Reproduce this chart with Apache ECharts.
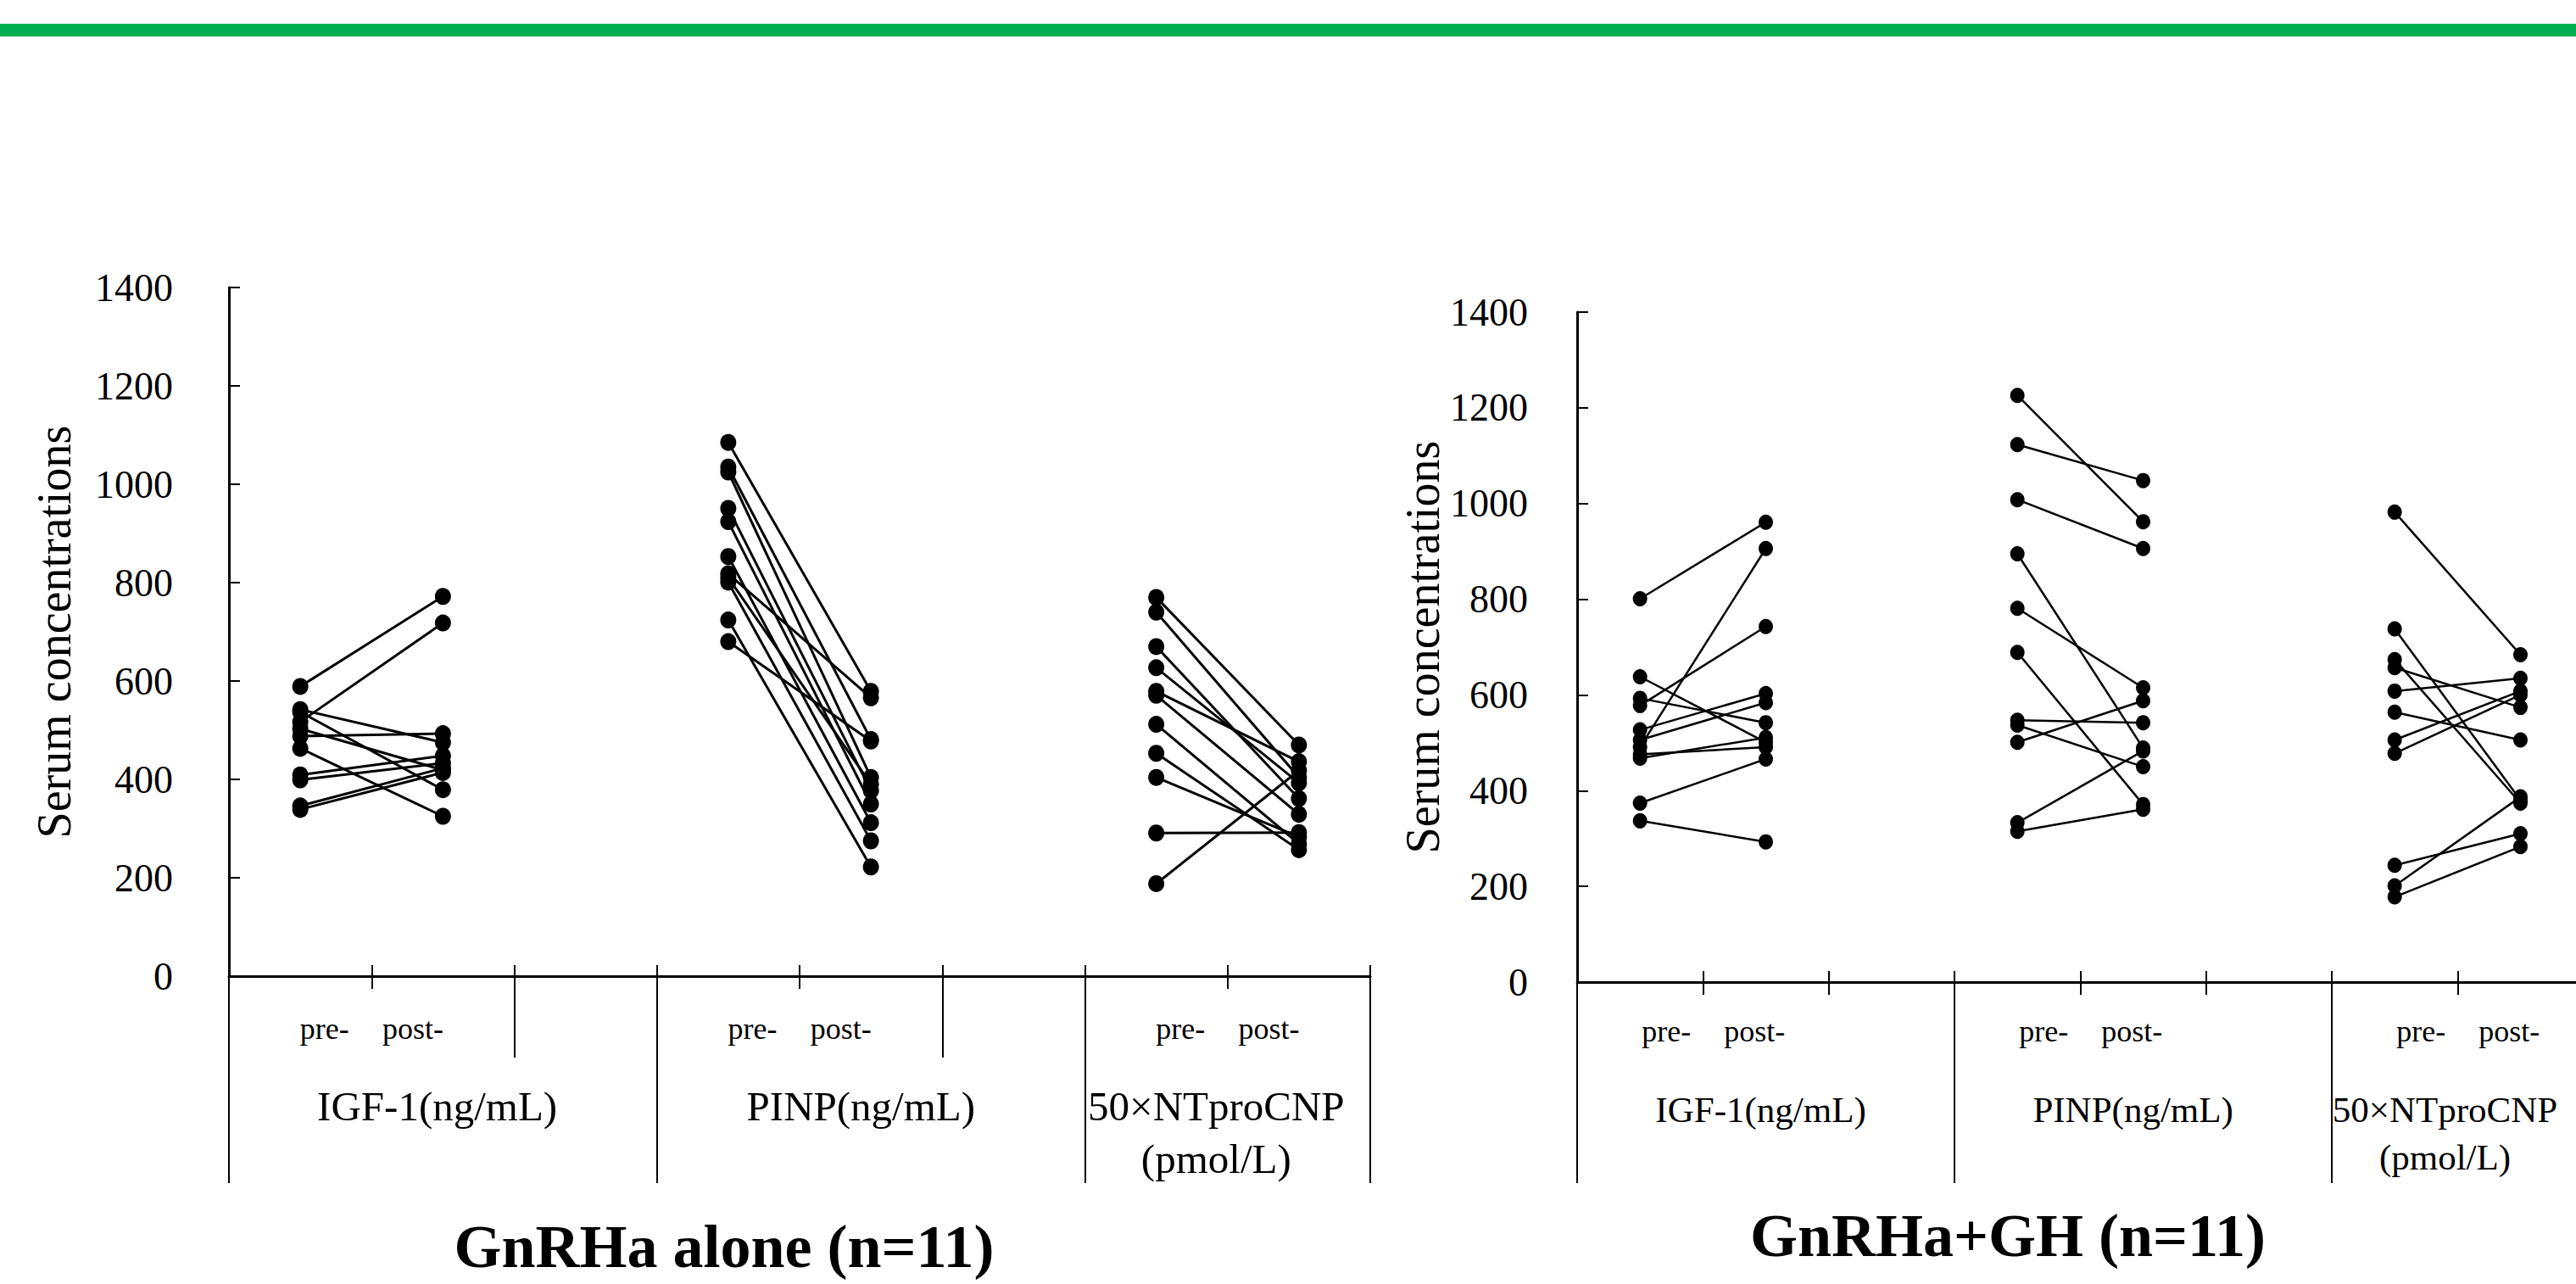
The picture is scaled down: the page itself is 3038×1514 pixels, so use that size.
<!DOCTYPE html>
<html>
<head>
<meta charset="utf-8">
<title>Serum concentrations pre/post</title>
<script src="https://cdn.jsdelivr.net/npm/echarts@6/dist/echarts.min.js"></script>
<style>html,body{margin:0;padding:0;background:#fff;overflow:hidden}</style>
</head>
<body>
<div id="chart" style="width:3038px;height:1514px;"></div>
<script>
// marker names shown under each pair of columns
const markers = ['IGF-1(ng/mL)', 'PINP(ng/mL)', '50×NTproCNP\n(pmol/L)'];
const phases = ['pre-', 'post-'];
const titles = ['GnRHa alone (n=11)', 'GnRHa+GH (n=11)'];
const yName = 'Serum concentrations';

// GnRHa alone, one entry per patient (pre -> post)
const aloneIgfPre   = [589, 517, 537, 542, 488, 463, 409, 399, 346, 339, 503];
const aloneIgfPost  = [772, 718, 379, 475, 493, 325, 448, 433, 423, 414, 419];
const alonePinpPre  = [1085, 1035, 1025, 951, 924, 853, 818, 810, 801, 724, 680];
const alonePinpPost = [579, 481, 404, 377, 350, 312, 566, 390, 275, 222, 478];
const aloneCnpPre   = [770, 740, 670, 627, 579, 571, 512, 453, 404, 291, 188];
const aloneCnpPost  = [470, 404, 361, 393, 436, 329, 269, 257, 283, 292, 418];

// GnRHa + GH
const ghIgfPre   = [801, 491, 578, 638, 593, 527, 506, 476, 468, 374, 337];
const ghIgfPost  = [961, 906, 743, 501, 542, 603, 584, 491, 511, 466, 293];
const ghPinpPre  = [1226, 1123, 1008, 895, 781, 689, 547, 537, 501, 333, 315];
const ghPinpPost = [962, 1048, 906, 489, 615, 371, 542, 450, 588, 483, 361];
const ghCnpPre   = [982, 738, 674, 657, 608, 564, 506, 478, 244, 201, 178];
const ghCnpPost  = [684, 380, 374, 574, 635, 506, 608, 600, 310, 387, 283];

const FONT = 'Liberation Serif';

// layout of the two panels (x axis: 3 units per marker, pre at +0.5, post at +1.5)
const panels = [
  {
    pairs: [[aloneIgfPre, aloneIgfPost], [alonePinpPre, alonePinpPost], [aloneCnpPre, aloneCnpPost]],
    grid: {left: 270, top: 339, width: 1346, height: 812},
    xMax: 8, mid: [1, 4, 7], tall: [2, 5], bounds: [0, 3, 6, 8],
    tallLen: 96, boundLen: 244,
    phaseOff: [0.67, 1.29], phaseMargin: 44,
    markerPos: [1.46, 4.43, 6.92], markerSize: 49, markerLH: 62, markerMargin: 122,
    yMargin: 66, nameGap: 178,
    dot: [19, 20], lw: 3,
    titleXY: [854, 1470]
  },
  {
    pairs: [[ghIgfPre, ghIgfPost], [ghPinpPre, ghPinpPost], [ghCnpPre, ghCnpPost]],
    grid: {left: 1860, top: 368, width: 1335, height: 790},
    xMax: 9, mid: [1, 2, 4, 5, 7, 8], tall: [], bounds: [0, 3, 6, 9],
    tallLen: 0, boundLen: 237,
    phaseOff: [0.71, 1.41], phaseMargin: 40,
    markerPos: [1.46, 4.42, 6.9], markerSize: 43, markerLH: 56, markerMargin: 122,
    yMargin: 58, nameGap: 152,
    dot: [17, 18], lw: 2.5,
    titleXY: [2368, 1457]
  }
];

const black = '#000';
const grids = [], xAxes = [], yAxes = [], series = [];

panels.forEach(function (p, pi) {
  grids.push(Object.assign({outerBoundsMode: 'none', containLabel: false}, p.grid));

  const ints = [];
  for (let i = 0; i <= p.xMax; i++) ints.push(i);
  const phaseVals = [];
  [0, 3, 6].forEach(function (s) {
    if (s + p.phaseOff[0] < p.xMax) phaseVals.push(s + p.phaseOff[0], s + p.phaseOff[1]);
  });

  const base = {
    type: 'value', gridIndex: pi, min: 0, max: p.xMax, position: 'bottom',
    splitLine: {show: false}
  };
  // main axis line, short ticks above the line, pre-/post- labels
  xAxes.push(Object.assign({}, base, {
    axisLine: {show: true, onZero: false, lineStyle: {color: black, width: 3}},
    axisTick: {show: true, inside: true, length: 13, customValues: ints, lineStyle: {color: black, width: 2}},
    axisLabel: {
      customValues: phaseVals, margin: p.phaseMargin,
      formatter: function (v) { return (v % 3) < 1 ? phases[0] : phases[1]; },
      fontFamily: FONT, fontSize: 36, color: black
    }
  }));
  // short ticks below the line, marker names
  xAxes.push(Object.assign({}, base, {
    axisLine: {show: false},
    axisTick: {show: true, length: 15, customValues: p.mid, lineStyle: {color: black, width: 2}},
    axisLabel: {
      customValues: p.markerPos, margin: p.markerMargin,
      formatter: function (v) { return markers[p.markerPos.indexOf(v)]; },
      fontFamily: FONT, fontSize: p.markerSize, lineHeight: p.markerLH, color: black
    }
  }));
  // longer ticks
  xAxes.push(Object.assign({}, base, {
    axisLine: {show: false},
    axisTick: {show: p.tall.length > 0, length: p.tallLen, customValues: p.tall, lineStyle: {color: black, width: 2}},
    axisLabel: {show: false}
  }));
  // separators between markers
  xAxes.push(Object.assign({}, base, {
    axisLine: {show: false},
    axisTick: {show: true, length: p.boundLen, customValues: p.bounds, lineStyle: {color: black, width: 2}},
    axisLabel: {show: false}
  }));

  yAxes.push({
    type: 'value', gridIndex: pi, min: 0, max: 1400, interval: 200,
    axisLine: {show: true, onZero: false, lineStyle: {color: black, width: 3}},
    axisTick: {show: true, inside: true, length: 13, lineStyle: {color: black, width: 2}},
    axisLabel: {
      margin: p.yMargin, fontFamily: FONT, fontSize: 46, color: black,
      formatter: function (v) { return String(v); }
    },
    splitLine: {show: false},
    name: yName, nameLocation: 'middle', nameRotate: 90, nameGap: p.nameGap,
    nameTextStyle: {fontFamily: FONT, fontSize: 56, color: black}
  });

  p.pairs.forEach(function (pair, g) {
    pair[0].forEach(function (pre, i) {
      series.push({
        type: 'line', xAxisIndex: pi * 4, yAxisIndex: pi,
        data: [[3 * g + 0.5, pre], [3 * g + 1.5, pair[1][i]]],
        symbol: 'circle', symbolSize: p.dot, showSymbol: true,
        itemStyle: {color: black},
        lineStyle: {color: black, width: p.lw},
        silent: true, animation: false, z: 3
      });
    });
  });
});

const graphic = [
  {type: 'rect', shape: {x: 0, y: 28, width: 3038, height: 15}, style: {fill: '#00B050'}}
];
panels.forEach(function (p, pi) {
  graphic.push({
    type: 'text', x: p.titleXY[0], y: p.titleXY[1],
    style: {
      text: titles[pi], fontFamily: FONT, fontWeight: 'bold', fontSize: 72,
      fill: black, align: 'center', verticalAlign: 'middle'
    }
  });
});

const chart = echarts.init(document.getElementById('chart'), null, {renderer: 'svg'});
chart.setOption({
  backgroundColor: '#fff',
  animation: false,
  grid: grids,
  xAxis: xAxes,
  yAxis: yAxes,
  series: series,
  graphic: graphic
});
</script>
</body>
</html>
